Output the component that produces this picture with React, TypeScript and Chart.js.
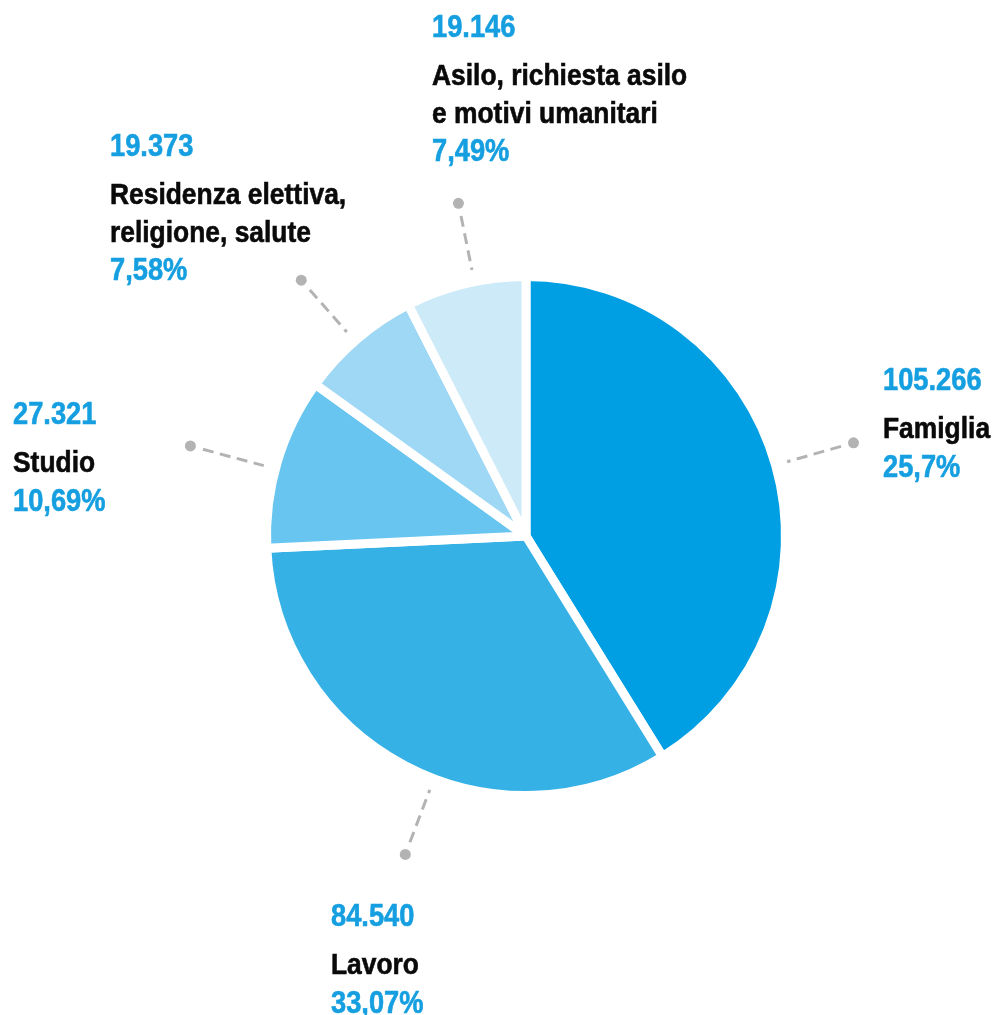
import React, { useEffect, useRef } from 'react';
import { Chart, registerables } from 'chart.js';

Chart.register(...registerables);

// ---- data ----
const categories = [
  'Famiglia',
  'Lavoro',
  'Studio',
  'Residenza elettiva, religione, salute',
  'Asilo, richiesta asilo e motivi umanitari',
];
const labelLines = [
  ['Famiglia'],
  ['Lavoro'],
  ['Studio'],
  ['Residenza elettiva,', 'religione, salute'],
  ['Asilo, richiesta asilo', 'e motivi umanitari'],
];
const values = [105266, 84540, 27321, 19373, 19146];
const valueLabels = ['105.266', '84.540', '27.321', '19.373', '19.146'];
const percentLabels = ['25,7%', '33,07%', '10,69%', '7,58%', '7,49%'];
const colors = ['#009fe3', '#35b1e6', '#67c5ef', '#9ed8f4', '#cdeaf8'];

// ---- annotation layout (text anchors: left x, baseline of the number) ----
const labelAnchors = [
  { x: 883, y: 390 },
  { x: 331, y: 926 },
  { x: 13, y: 424 },
  { x: 110, y: 156 },
  { x: 432, y: 37 },
];
const leaderShiftDeg = [0, -7, -1.5, -0.7, 2];
const leaderDotExtra = [81, 81, 88, 81, 80];

const FONT = "'Liberation Sans', Arial, Helvetica, sans-serif";
const BLUE = '#169fe0';
const BLACK = '#0a0a0a';
const GREY = '#b3b3b3';
const NUM_SIZE = 31;
const NUM_SCALE = 0.88;
const LBL_SIZE = 29;
const LBL_SCALE = 0.91;

function squeezedText(ctx: CanvasRenderingContext2D, text: string, x: number, y: number, sx: number) {
  ctx.save();
  ctx.translate(x, y);
  ctx.scale(sx, 1);
  ctx.lineWidth = 0.6;
  ctx.strokeStyle = ctx.fillStyle as string;
  ctx.fillText(text, 0, 0);
  ctx.strokeText(text, 0, 0);
  ctx.restore();
}

const labelPlugin = {
  id: 'pieLabels',
  afterDatasetsDraw(chart: any) {
    const ctx = chart.ctx as CanvasRenderingContext2D;
    const meta = chart.getDatasetMeta(0);
    ctx.save();
    meta.data.forEach((arc: any, i: number) => {
      const p = arc.getProps(['x', 'y', 'startAngle', 'endAngle', 'outerRadius'], true);
      const mid = (p.startAngle + p.endAngle) / 2 + (leaderShiftDeg[i] * Math.PI) / 180;
      const cx = p.x;
      const cy = p.y;
      const R = p.outerRadius;
      const rd = R + leaderDotExtra[i];
      const r1 = rd - 13;
      const r2 = R + 12;
      // dashed leader (from the dot towards the pie)
      ctx.strokeStyle = GREY;
      ctx.lineWidth = 3;
      ctx.lineCap = 'butt';
      ctx.setLineDash([11, 6.5]);
      ctx.beginPath();
      ctx.moveTo(cx + Math.cos(mid) * r1, cy + Math.sin(mid) * r1);
      ctx.lineTo(cx + Math.cos(mid) * r2, cy + Math.sin(mid) * r2);
      ctx.stroke();
      ctx.setLineDash([]);
      ctx.fillStyle = GREY;
      ctx.beginPath();
      ctx.arc(cx + Math.cos(mid) * rd, cy + Math.sin(mid) * rd, 5.5, 0, Math.PI * 2);
      ctx.fill();

      // text block
      const a = labelAnchors[i];
      ctx.textAlign = 'left';
      ctx.textBaseline = 'alphabetic';
      ctx.fillStyle = BLUE;
      ctx.font = `bold ${NUM_SIZE}px ${FONT}`;
      squeezedText(ctx, valueLabels[i], a.x, a.y, NUM_SCALE);
      let y = a.y + 48;
      ctx.fillStyle = BLACK;
      ctx.font = `bold ${LBL_SIZE}px ${FONT}`;
      labelLines[i].forEach((line, k) => {
        if (k > 0) y += 37.5;
        squeezedText(ctx, line, a.x, y, LBL_SCALE);
      });
      y += 38.5;
      ctx.fillStyle = BLUE;
      ctx.font = `bold ${NUM_SIZE}px ${FONT}`;
      squeezedText(ctx, percentLabels[i], a.x, y, NUM_SCALE);
    });
    ctx.restore();
  },
};

export default function App() {
  const ref = useRef<HTMLCanvasElement>(null);
  useEffect(() => {
    if (!ref.current) return;
    const chart = new Chart(ref.current, {
      type: 'pie',
      data: {
        labels: categories,
        datasets: [
          {
            data: values,
            backgroundColor: colors,
            borderColor: '#ffffff',
            borderWidth: 9,
            radius: 259.5,
          } as any,
        ],
      },
      options: {
        responsive: false,
        maintainAspectRatio: false,
        animation: false,
        layout: { padding: { left: 58, top: 57, right: 0, bottom: 0 } },
        plugins: {
          legend: { display: false },
          tooltip: { enabled: false },
        },
      },
      plugins: [labelPlugin],
    });
    return () => chart.destroy();
  }, []);
  return (
    <div style={{ position: 'absolute', left: 0, top: 0, width: 994, height: 1015, background: '#fff' }}>
      <canvas ref={ref} width={994} height={1015} style={{ width: 994, height: 1015 }} />
    </div>
  );
}
